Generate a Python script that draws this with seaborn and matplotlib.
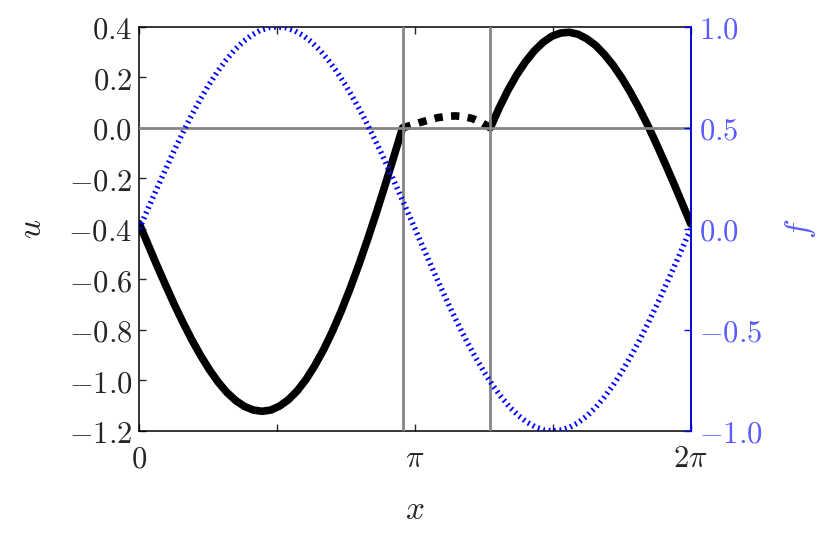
import numpy as np
import matplotlib
matplotlib.use("Agg")
import matplotlib.pyplot as plt
import seaborn as sns

# values
# u, left piece (solid), x in [0, 3]
u_left_x = [0.0, 0.1, 0.2, 0.3, 0.4, 0.5, 0.6, 0.7, 0.8, 0.9, 1.0, 1.1, 1.2, 1.3, 1.4, 1.5,
            1.6, 1.7, 1.8, 1.9, 2.0, 2.1, 2.2, 2.3, 2.4, 2.5, 2.6, 2.7, 2.8, 2.9, 3.0]
u_left = [-0.380, -0.462, -0.544, -0.623, -0.700, -0.772, -0.840, -0.902, -0.958, -1.007,
          -1.048, -1.080, -1.103, -1.117, -1.122, -1.117, -1.101, -1.076, -1.041, -0.996,
          -0.941, -0.878, -0.806, -0.726, -0.638, -0.544, -0.443, -0.338, -0.228, -0.115, 0.0]

# u, middle piece (dashed), x in [3, 4]
u_mid_x = [3.0, 3.1, 3.2, 3.3, 3.4, 3.5, 3.6, 3.7, 3.8, 3.9, 4.0]
u_mid = [0.0, 0.010, 0.021, 0.031, 0.040, 0.045, 0.047, 0.044, 0.036, 0.021, 0.0]

# u, right piece (solid), x in [4, 2pi]
u_right_x = [4.0, 4.1, 4.2, 4.3, 4.4, 4.5, 4.6, 4.7, 4.8, 4.9, 5.0, 5.1, 5.2, 5.3, 5.4,
             5.5, 5.6, 5.7, 5.8, 5.9, 6.0, 6.1, 6.2, 6.283]
u_right = [0.0, 0.078, 0.148, 0.209, 0.261, 0.304, 0.338, 0.362, 0.375, 0.378, 0.370,
           0.352, 0.326, 0.290, 0.247, 0.196, 0.138, 0.074, 0.005, -0.070, -0.148,
           -0.228, -0.311, -0.380]

# f (blue dotted, right axis)
f_x = [0.0, 0.098, 0.196, 0.295, 0.393, 0.491, 0.589, 0.687, 0.785, 0.884, 0.982,
       1.080, 1.178, 1.276, 1.374, 1.473, 1.571, 1.669, 1.767, 1.865, 1.963, 2.062,
       2.160, 2.258, 2.356, 2.454, 2.553, 2.651, 2.749, 2.847, 2.945, 3.043, 3.142,
       3.240, 3.338, 3.436, 3.534, 3.632, 3.731, 3.829, 3.927, 4.025, 4.123, 4.221,
       4.320, 4.418, 4.516, 4.614, 4.712, 4.811, 4.909, 5.007, 5.105, 5.203, 5.301,
       5.400, 5.498, 5.596, 5.694, 5.792, 5.890, 5.988, 6.087, 6.185, 6.283]
f_vals = [0.0, 0.098, 0.195, 0.290, 0.383, 0.471, 0.556, 0.634, 0.707, 0.773, 0.831,
          0.882, 0.924, 0.957, 0.981, 0.995, 1.0, 0.995, 0.981, 0.957, 0.924, 0.882,
          0.831, 0.773, 0.707, 0.634, 0.556, 0.471, 0.383, 0.290, 0.195, 0.098, 0.0,
          -0.098, -0.195, -0.290, -0.383, -0.471, -0.556, -0.634, -0.707, -0.773, -0.831,
          -0.882, -0.924, -0.957, -0.981, -0.995, -1.0, -0.995, -0.981, -0.957, -0.924,
          -0.882, -0.831, -0.773, -0.707, -0.634, -0.556, -0.471, -0.383, -0.290, -0.195,
          -0.098, 0.0]

# interface positions (gray vertical lines)
interfaces = [3.0, 4.0]

u_ticks = [-1.2, -1.0, -0.8, -0.6, -0.4, -0.2, 0.0, 0.2, 0.4]
f_ticks = [-1.0, -0.5, 0.0, 0.5, 1.0]
x_ticks = [0.0, np.pi, 2 * np.pi]
x_labels = [r"$0$", r"$\pi$", r"$2\pi$"]
x_minor = [np.pi / 2, 3 * np.pi / 2]

sns.set_style("ticks")
plt.rcParams["mathtext.fontset"] = "cm"
plt.rcParams["font.family"] = ["DejaVu Serif"]
plt.rcParams["lines.scale_dashes"] = False
plt.rcParams["xtick.direction"] = "in"
plt.rcParams["ytick.direction"] = "in"

fs = 22
label_blue = "#5b5bff"
gray = "#858585"

fig = plt.figure(figsize=(8.31, 5.35), dpi=100)
ax = fig.add_axes([0.1676, 0.1944, 0.6636, 0.7557])

sns.lineplot(x=u_left_x, y=u_left, ax=ax, color="black", lw=5.5, sort=False, zorder=2)
sns.lineplot(x=u_mid_x, y=u_mid, ax=ax, color="black", lw=5.5, sort=False, zorder=2,
             linestyle=(0, (6, 6)))
sns.lineplot(x=u_right_x, y=u_right, ax=ax, color="black", lw=5.5, sort=False, zorder=2)

ax.axhline(0, color=gray, lw=2, zorder=3)
for xi in interfaces:
    ax.axvline(xi, color=gray, lw=2, zorder=3)

ax.set_xlim(0, 2 * np.pi)
ax.set_ylim(-1.2, 0.4)
ax.set_xticks(x_ticks)
ax.set_xticklabels(x_labels, fontsize=fs)
ax.set_xticks(x_minor, minor=True)
ax.set_yticks(u_ticks)
ax.set_yticklabels([f"${t:.1f}$" for t in u_ticks], fontsize=fs)
ax.tick_params(axis="x", which="both", top=True, length=5, width=1, pad=9)
ax.tick_params(axis="y", which="both", right=False, length=5, width=1, pad=5)
ax.set_xlabel(r"$x$", fontsize=fs + 2, labelpad=14)
ax.set_ylabel(r"$u$", fontsize=fs + 2, labelpad=15)
for s in ax.spines.values():
    s.set_linewidth(1.1)
    s.set_color("black")

ax2 = ax.twinx()
sns.lineplot(x=f_x, y=f_vals, ax=ax2, color="blue", lw=4, sort=False,
             linestyle=(0, (1.3, 2.7)))
ax2.set_ylim(-1.0, 1.0)
ax2.set_yticks(f_ticks)
ax2.set_yticklabels([f"${t:.1f}$" for t in f_ticks], fontsize=fs, color=label_blue)
ax2.tick_params(axis="y", which="both", left=False, length=5, width=1, pad=6, color="blue")
ax2.set_ylabel(r"$f$", fontsize=fs + 2, color=label_blue, labelpad=15)
ax2.spines["right"].set_color("blue")
ax2.spines["right"].set_linewidth(1.1)
for side in ["left", "top", "bottom"]:
    ax2.spines[side].set_visible(False)

fig.savefig("out.png", dpi=100)
